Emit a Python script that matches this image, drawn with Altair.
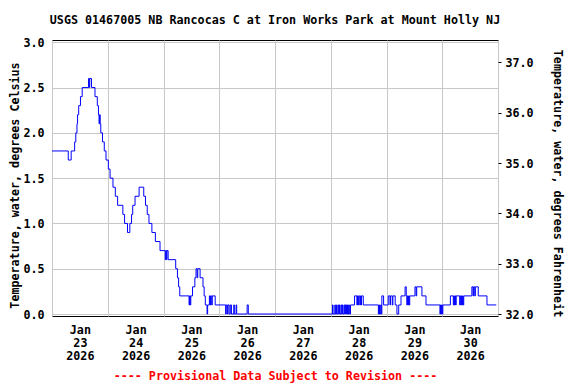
import altair as alt
import pandas as pd

TITLE = "USGS 01467005 NB Rancocas C at Iron Works Park at Mount Holly NJ"
LEFT_TITLE = "Temperature, water, degrees Celsius"
RIGHT_TITLE = "Temperature, water, degrees Fahrenheit"
NOTE = "---- Provisional Data Subject to Revision ----"

START = "2026-01-23 00:00"
DAYS = [23, 24, 25, 26, 27, 28, 29, 30, 31]

# hours after Jan 23 00:00 at which the reading changes, and the new reading (deg C)
step_hours = [
    0, 7.0, 8.25, 9.75, 10.25, 10.75, 11.0, 11.5, 12.25, 13.0,
    15.75, 16.0, 16.25, 17.0, 18.5, 19.5, 20.0, 20.25, 20.5, 20.75,
    21.0, 21.75, 22.5, 23.25, 24.25, 25.0, 26.25, 27.25, 28.25, 30.5,
    31.25, 32.5, 33.5, 34.25, 34.75, 35.75, 37.5, 39.5, 40.25, 41.0,
    41.75, 43.0, 44.5, 46.5, 48.75, 49.0, 49.25, 49.5, 50.0, 53.25,
    54.0, 54.5, 55.0, 59.0, 59.25, 59.5, 59.75, 60.5, 61.5, 62.0,
    62.5, 62.75, 63.75, 65.0, 65.5, 66.0, 66.75, 67.0, 67.75, 68.0,
    68.25, 68.75, 69.0, 70.25, 74.75, 75.0, 75.5, 75.75, 76.25, 76.75,
    77.25, 78.25, 78.5, 79.25, 79.5, 84.0, 84.5, 120.75, 121.0, 121.75,
    122.0, 122.5, 122.75, 123.25, 123.5, 123.75, 124.0, 124.5, 124.75, 125.0,
    125.25, 125.75, 126.0, 126.25, 126.5, 126.75, 127.0, 127.25, 127.5, 127.75,
    128.0, 128.5, 130.25, 131.25, 131.5, 131.75, 132.0, 132.5, 132.75, 133.0,
    133.25, 134.0, 140.5, 140.75, 141.0, 141.5, 141.75, 142.0, 142.75, 144.75,
    145.5, 145.75, 146.5, 146.75, 147.75, 148.5, 149.25, 150.25, 152.0, 152.5,
    152.75, 153.0, 153.25, 153.5, 153.75, 154.0, 156.25, 156.75, 157.0, 159.25,
    161.0, 167.0, 167.25, 167.5, 167.75, 168.0, 168.25, 171.5, 172.75, 173.0,
    173.25, 173.5, 173.75, 174.0, 175.5, 175.75, 176.0, 176.25, 176.5, 176.75,
    177.0, 177.25, 180.75, 181.25, 181.5, 182.0, 182.25, 183.5, 187.25, 191.25,
]
step_temps = [
    1.8, 1.7, 1.8, 1.9, 2.0, 2.1, 2.2, 2.3, 2.4, 2.5,
    2.6, 2.5, 2.6, 2.5, 2.4, 2.3, 2.2, 2.1, 2.2, 2.1,
    2.0, 1.9, 1.8, 1.7, 1.6, 1.5, 1.4, 1.3, 1.2, 1.1,
    1.0, 0.9, 1.0, 1.1, 1.2, 1.3, 1.4, 1.3, 1.2, 1.1,
    1.0, 0.9, 0.8, 0.7, 0.6, 0.7, 0.6, 0.7, 0.6, 0.5,
    0.4, 0.3, 0.2, 0.1, 0.2, 0.1, 0.2, 0.3, 0.4, 0.5,
    0.4, 0.5, 0.4, 0.3, 0.2, 0.1, 0.0, 0.1, 0.2, 0.1,
    0.2, 0.1, 0.2, 0.1, 0.0, 0.1, 0.0, 0.1, 0.0, 0.1,
    0.0, 0.1, 0.0, 0.1, 0.0, 0.1, 0.0, 0.1, 0.0, 0.1,
    0.0, 0.1, 0.0, 0.1, 0.0, 0.1, 0.0, 0.1, 0.0, 0.1,
    0.0, 0.1, 0.0, 0.1, 0.0, 0.1, 0.0, 0.1, 0.0, 0.1,
    0.0, 0.1, 0.2, 0.1, 0.2, 0.1, 0.2, 0.1, 0.2, 0.1,
    0.2, 0.1, 0.0, 0.1, 0.0, 0.1, 0.0, 0.2, 0.1, 0.2,
    0.1, 0.2, 0.1, 0.2, 0.1, 0.0, 0.1, 0.2, 0.3, 0.2,
    0.1, 0.2, 0.1, 0.2, 0.1, 0.2, 0.3, 0.2, 0.3, 0.2,
    0.1, 0.0, 0.1, 0.0, 0.1, 0.0, 0.1, 0.2, 0.1, 0.2,
    0.1, 0.2, 0.1, 0.2, 0.1, 0.2, 0.1, 0.2, 0.1, 0.2,
    0.1, 0.2, 0.3, 0.2, 0.3, 0.2, 0.3, 0.2, 0.1, 0.1,
]

C_TICKS = [0.0, 0.5, 1.0, 1.5, 2.0, 2.5, 3.0]
F_TICKS = [32, 33, 34, 35, 36, 37]
C_DOMAIN = [-0.022, 3.025]

start = pd.Timestamp(START)
df = pd.DataFrame({
    "time": [start + pd.Timedelta(hours=h) for h in step_hours],
    "temp": step_temps,
})

x_values = []
for d in DAYS[:-1]:
    x_values.append(alt.DateTime(year=2026, month=1, date=d, hours=0))
    x_values.append(alt.DateTime(year=2026, month=1, date=d, hours=12))
x_values.append(alt.DateTime(year=2026, month=1, date=DAYS[-1], hours=0))

FONT = "DejaVu Sans Mono"
FS = 11.7

x_scale = alt.Scale(domain=[alt.DateTime(year=2026, month=1, date=DAYS[0]),
                            alt.DateTime(year=2026, month=1, date=DAYS[-1])])

x_axis = alt.Axis(
    values=x_values,
    labelExpr="hours(datum.value) == 12 ? [timeFormat(datum.value, '%b'), timeFormat(datum.value, '%d'), timeFormat(datum.value, '%Y')] : ''",
    labelOverlap=False,
    labelFlush=False,
    labelLineHeight=13,
    labelPadding=8,
    ticks=False,
    domain=False,
    grid=True,
    gridOpacity={"condition": {"test": "hours(datum.value) == 0", "value": 1}, "value": 0},
    title=NOTE,
    titleColor="#ff0000",
    titlePadding=9,
)

left = alt.Chart(df).mark_line(interpolate="step-after", color="#0000ff", strokeWidth=1).encode(
    x=alt.X("time:T", scale=x_scale, axis=x_axis),
    y=alt.Y(
        "temp:Q",
        scale=alt.Scale(domain=C_DOMAIN, nice=False, zero=False),
        axis=alt.Axis(values=C_TICKS, format=".1f", title=LEFT_TITLE, grid=True,
                      ticks=False, domain=False, labelPadding=8, titlePadding=2.5,
                      titleY=145),
    ),
)

right = alt.Chart(df).transform_calculate(
    tempF="32 + 1.8 * datum.temp"
).mark_line(interpolate="step-after", strokeOpacity=0).encode(
    x=alt.X("time:T", scale=x_scale, axis=x_axis),
    y=alt.Y(
        "tempF:Q",
        scale=alt.Scale(domain=[32 + 1.8 * C_DOMAIN[0], 32 + 1.8 * C_DOMAIN[1]], nice=False, zero=False),
        axis=alt.Axis(values=F_TICKS, format=".1f", title=RIGHT_TITLE, orient="right",
                      grid=False, ticks=True, tickSize=3, tickColor="black", domain=False,
                      labelPadding=4, titlePadding=18, titleY=143),
    ),
)

chart = alt.layer(left, right).resolve_scale(y="independent").properties(
    width=446,
    height=276,
    autosize=alt.AutoSizeParams(type="none"),
    padding={"left": 44, "top": 32, "right": 70, "bottom": 68},
    title=alt.TitleParams(TITLE, font=FONT, fontSize=FS, fontWeight="bold",
                          color="black", anchor="middle", frame="group", offset=11),
).configure_view(
    stroke="black", strokeWidth=1
).configure_axis(
    labelFont=FONT, labelFontSize=FS, labelFontWeight="bold", labelColor="black",
    titleFont=FONT, titleFontSize=FS, titleFontWeight="bold", titleColor="black",
    gridColor="#c8c8c8", gridWidth=1,
)

chart.save("out.html", embed_options={"renderer": "svg", "actions": False})
